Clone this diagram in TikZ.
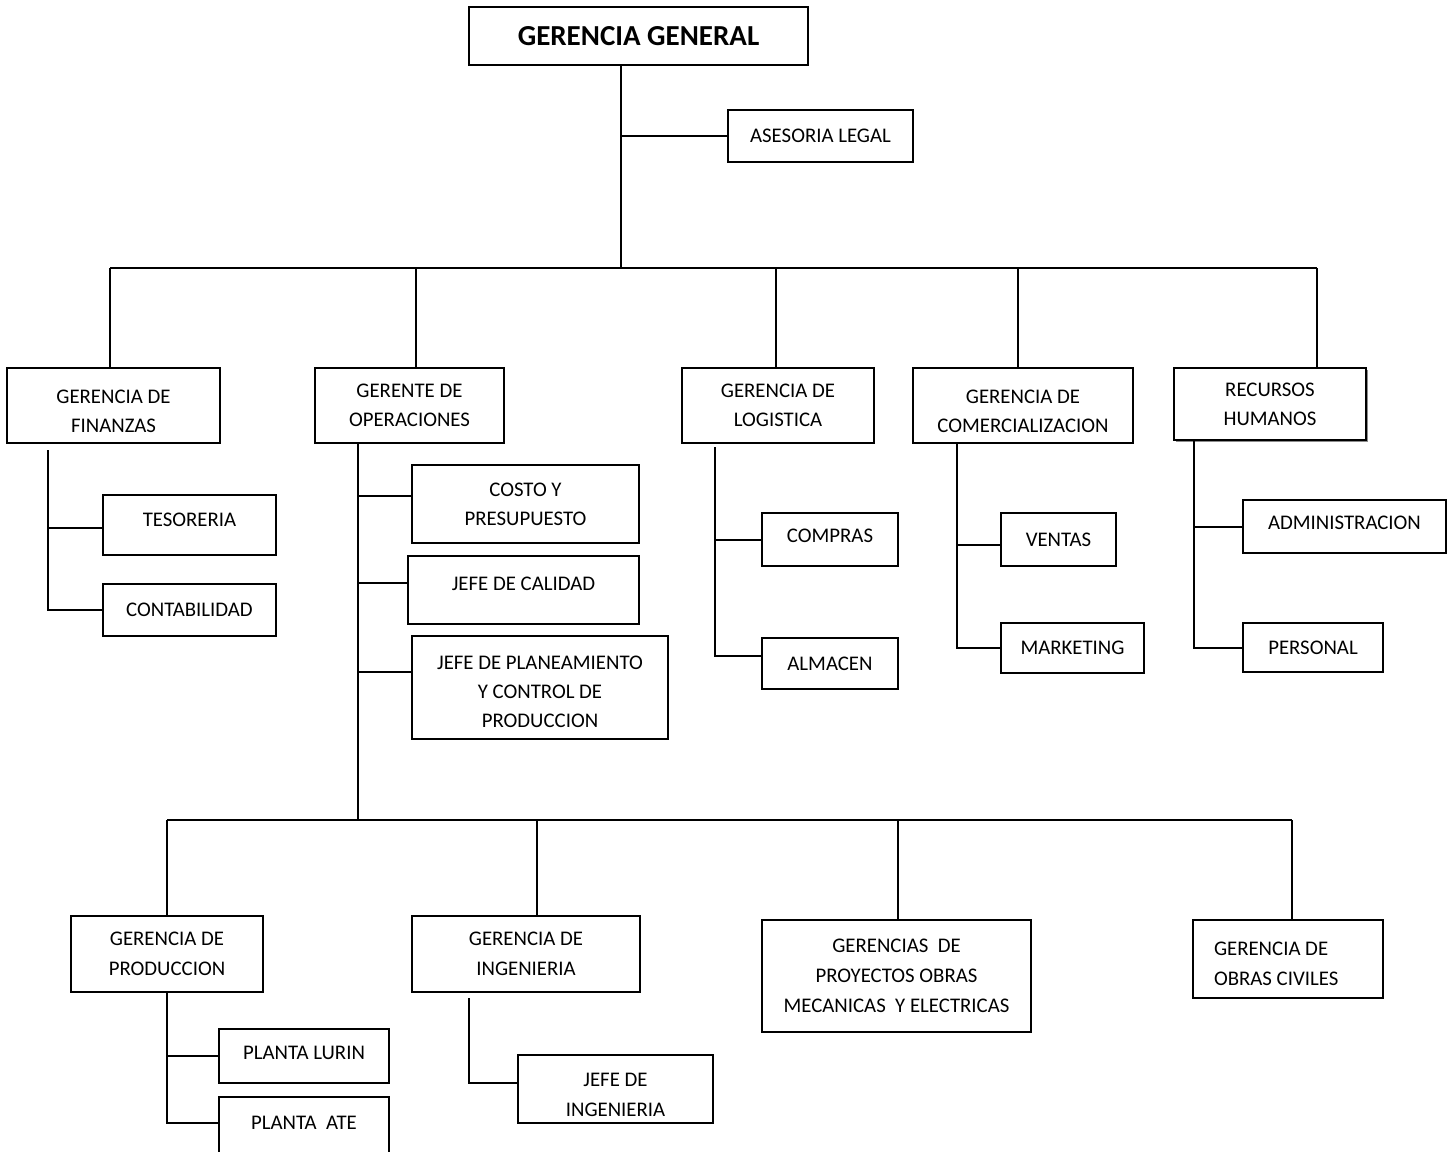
\documentclass[tikz,border=0pt]{standalone}
\usepackage{fontspec}
\setmainfont{Carlito}
\usetikzlibrary{shadows}
\tikzset{
  caja/.style={draw, line width=1pt, align=center, inner sep=0pt,
    font=\fontsize{10.4}{14.5}\selectfont},
  cajab/.style={caja, font=\fontsize{10.4}{15}\selectfont},
  linea/.style={line width=1pt}
}
\begin{document}
\begin{tikzpicture}[x=0.5pt,y=-0.5pt]
  \useasboundingbox (0,0) rectangle (1455,1151);
  % cajas
  \node[caja, minimum width=169.5pt, minimum height=29pt,
    font=\bfseries\fontsize{14.5}{16}\selectfont] (gg) at (638.5,36) {GERENCIA GENERAL};
  \node[caja, minimum width=92.5pt, minimum height=26pt, line width=0.6pt] (ase) at (820.5,136) {ASESORIA LEGAL};
  \node[caja, minimum width=106.5pt, minimum height=37.5pt, text height=26.7pt] (fin) at (113.5,405.5) {GERENCIA DE\\FINANZAS};
  \node[caja, minimum width=94.5pt, minimum height=37.5pt] (ope) at (409.5,405.5) {GERENTE DE\\OPERACIONES};
  \node[caja, minimum width=96pt, minimum height=37.5pt] (log) at (778,405.5) {GERENCIA DE\\LOGISTICA};
  \node[caja, minimum width=110pt, minimum height=37.5pt, text height=26.7pt] (com) at (1023,405.5) {GERENCIA DE\\COMERCIALIZACION};
  \node[caja, minimum width=96pt, minimum height=36pt, line width=0.6pt, fill=white,
    drop shadow={shadow xshift=0.8pt, shadow yshift=-0.8pt, fill=black!45, opacity=1}] (rrhh) at (1270,404) {RECURSOS\\HUMANOS};
  \node[caja, minimum width=86.5pt, minimum height=30pt, text depth=5pt] (tes) at (189.5,525) {TESORERIA};
  \node[caja, minimum width=86.5pt, minimum height=26pt] (cont) at (189.5,610) {CONTABILIDAD};
  \node[caja, minimum width=113.5pt, minimum height=39pt] (cos) at (525.5,504) {COSTO Y\\PRESUPUESTO};
  \node[caja, minimum width=115.5pt, minimum height=34pt, text depth=6.5pt] (cal) at (523.5,590) {JEFE DE CALIDAD};
  \node[caja, minimum width=128pt, minimum height=51.5pt, text height=39.7pt] (pla) at (540,687.5) {JEFE DE PLANEAMIENTO\\Y CONTROL DE\\PRODUCCION};
  \node[caja, minimum width=68pt, minimum height=26.5pt, text depth=4pt] (cmp) at (830,539.5) {COMPRAS};
  \node[caja, minimum width=68pt, minimum height=25.5pt] (alm) at (830,663.5) {ALMACEN};
  \node[caja, minimum width=57.5pt, minimum height=26.5pt] (ven) at (1058.5,539.5) {VENTAS};
  \node[caja, minimum width=71.5pt, minimum height=25pt] (mkt) at (1072.5,648) {MARKETING};
  \node[caja, minimum width=101.5pt, minimum height=26.5pt, text depth=4pt] (adm) at (1344.5,526.5) {ADMINISTRACION};
  \node[caja, minimum width=70pt, minimum height=24.5pt] (per) at (1313,647.5) {PERSONAL};
  \node[cajab, minimum width=96pt, minimum height=38pt] (pro) at (167,954) {GERENCIA DE\\PRODUCCION};
  \node[cajab, minimum width=114pt, minimum height=38pt] (ing) at (526,954) {GERENCIA DE\\INGENIERIA};
  \node[cajab, minimum width=134.5pt, minimum height=56pt] (proy) at (896.5,976) {GERENCIAS\ \ DE\\PROYECTOS OBRAS\\MECANICAS\ \ Y ELECTRICAS};
  \node[cajab, minimum width=95pt, minimum height=39pt, text width=74pt, align=flush left, text height=11.2pt] (obr) at (1288,959) {GERENCIA DE\\OBRAS CIVILES};
  \node[cajab, minimum width=85pt, minimum height=27pt, text depth=3pt] (lur) at (304,1056) {PLANTA LURIN};
  \node[cajab, minimum width=85pt, minimum height=31.5pt, text depth=6pt] (ate) at (304,1128.5) {PLANTA\ \ ATE};
  \node[cajab, minimum width=97.5pt, minimum height=34pt, text height=27.2pt] (jing) at (615.5,1089) {JEFE DE\\INGENIERIA};

  % tronco y barra superior
  \coordinate (t0) at (621,268);
  \draw[linea] (gg.south -| t0) -- (t0);
  \draw[linea] (ase.west -| t0) -- (ase.west);
  \coordinate (d1) at (110,268);
  \coordinate (d2) at (416,268);
  \coordinate (d3) at (776,268);
  \coordinate (d4) at (1018,268);
  \coordinate (d5) at (1317,268);
  \draw[linea] (d1) -- (d5);
  \foreach \d/\n in {d1/fin, d2/ope, d3/log, d4/com, d5/rrhh}
    \draw[linea] (\d) -- (\d |- \n.north);

  % finanzas
  \coordinate (f0) at (48,450);
  \draw[linea] (f0) |- (cont.west);
  \draw[linea] ([yshift=-1.5pt]f0 |- tes.west) -- ([yshift=-1.5pt]tes.west);

  % operaciones
  \coordinate (o0) at (358,820);
  \draw[linea] (ope.south -| o0) -- (o0);
  \draw[linea] ([yshift=4pt]o0 |- cos.west) -- ([yshift=4pt]cos.west);
  \draw[linea] ([yshift=3.5pt]o0 |- cal.west) -- ([yshift=3.5pt]cal.west);
  \draw[linea] ([yshift=8pt]o0 |- pla.west) -- ([yshift=8pt]pla.west);

  % logistica
  \coordinate (l0) at (715,447);
  \draw[linea] (l0) |- ([yshift=4pt]alm.west);
  \draw[linea] (l0 |- cmp.west) -- (cmp.west);

  % comercializacion
  \coordinate (c0) at (957,443);
  \draw[linea] (c0) |- (mkt.west);
  \draw[linea] ([yshift=-2.5pt]c0 |- ven.west) -- ([yshift=-2.5pt]ven.west);

  % recursos humanos
  \coordinate (r0) at (1194,440);
  \draw[linea] (r0) |- (per.west);
  \draw[linea] (r0 |- adm.west) -- (adm.west);

  % barra inferior
  \coordinate (b1) at (167,820);
  \coordinate (b2) at (537,820);
  \coordinate (b3) at (898,820);
  \coordinate (b4) at (1292,820);
  \draw[linea] (b1) -- (b4);
  \foreach \d/\n in {b1/pro, b2/ing, b3/proy, b4/obr}
    \draw[linea] (\d) -- (\d |- \n.north);

  % produccion
  \draw[linea] (pro.south) |- ([yshift=3pt]ate.west);
  \draw[linea] (pro.south |- lur.west) -- (lur.west);

  % ingenieria
  \coordinate (g0) at (469,998);
  \draw[linea] (g0) |- ([yshift=3pt]jing.west);
\end{tikzpicture}
\end{document}
